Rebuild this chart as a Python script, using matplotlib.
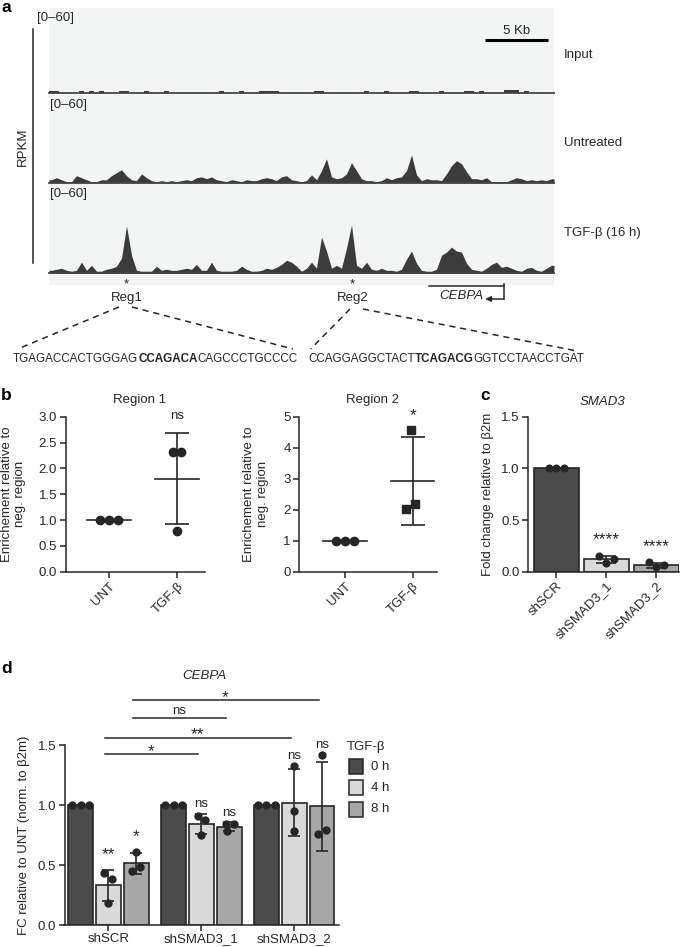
import numpy as np
import matplotlib
matplotlib.use("Agg")
import matplotlib.pyplot as plt
from matplotlib.patches import Rectangle
from matplotlib.transforms import blended_transform_factory

plt.rcParams['font.family'] = ['Liberation Sans', 'DejaVu Sans']
plt.rcParams['font.size'] = 9.5
plt.rcParams['axes.linewidth'] = 1.1
plt.rcParams['xtick.major.width'] = 1.1
plt.rcParams['ytick.major.width'] = 1.1
plt.rcParams['xtick.major.size'] = 4
plt.rcParams['ytick.major.size'] = 4
plt.rcParams['xtick.major.pad'] = 2
plt.rcParams['ytick.major.pad'] = 2

# ---------------- DATA ----------------
bin_kb = 0.4  # genomic bin size (kb)
track_names = ['Input', 'Untreated', 'TGF-β (16 h)']
input_rpkm = [1.4, 1.4, 0, 0, 0, 0, 1.4, 0, 1.4, 0,
              1.4, 0, 0, 0, 1.4, 1.4, 0, 0, 0, 1.4,
              0, 0, 0, 1.4, 0, 0, 0, 0, 0, 0,
              0, 0, 0, 0, 1.4, 0, 0, 0, 1.4, 0,
              0, 0, 1.4, 1.4, 1.4, 1.4, 0, 0, 0, 0,
              0, 0, 0, 1.4, 1.4, 0, 0, 0, 0, 0,
              0, 0, 0, 1.4, 0, 0, 0, 1.4, 0, 0,
              0, 0, 1.4, 1.4, 0, 0, 0, 0, 1.4, 0,
              0, 0, 0, 1.4, 1.4, 0, 1.4, 0, 0, 0,
              0, 2.0, 2.4, 2.0, 0, 1.4, 0, 0, 0, 0,
              0]
untreated_rpkm = [2, 3.4, 2, 0.7, 0.7, 4.8, 3.4, 2, 0.7, 0.7,
                  2, 2, 4.8, 6.8, 8.8, 4.8, 2, 1.4, 6, 3.4,
                  1.4, 0.7, 1.4, 0.7, 1.4, 0.7, 1.4, 2, 1.4, 3.4,
                  4, 2.7, 4, 2, 1.4, 0.7, 2, 1.4, 0.7, 2,
                  1.4, 1.4, 2.7, 3.4, 2.7, 1.4, 4, 4.8, 2, 1.4,
                  0.7, 1.4, 5.4, 2, 8.2, 16.3, 4, 2.7, 3.4, 6,
                  13.6, 8.2, 2.7, 1.4, 1.4, 0.7, 1.4, 3.4, 2, 3.4,
                  4, 8.2, 19, 5.4, 1.4, 2.7, 2, 2, 1.4, 6,
                  11.6, 15, 12.9, 7.5, 2.7, 2.7, 2, 3.4, 0.7, 0.7,
                  0.7, 0.7, 2, 3.4, 2.7, 1.4, 2, 1.4, 2, 1.4,
                  2.7]
tgfb_rpkm = [2, 2.7, 3.4, 2, 1.4, 2, 7.5, 2, 5.4, 1.4,
             1.4, 2.7, 3.4, 4.8, 10.2, 32, 12.2, 2, 1.4, 1.4,
             1.4, 4.8, 2, 2.7, 2, 2, 2.7, 3.4, 2.7, 6,
             2, 2, 7.5, 2, 1.4, 1.4, 1.4, 2, 4.8, 2.7,
             1.4, 1.4, 2, 3.4, 2.7, 4, 6, 8.8, 7.5, 4.8,
             1.4, 3.4, 7.5, 3.4, 24.5, 15, 3.4, 5.4, 3.4, 17,
             32.6, 5.4, 3.4, 7.5, 2.7, 2, 3.4, 2, 2, 1.4,
             2.7, 9.5, 15, 6.8, 2, 1.4, 1.4, 2.7, 12.2, 14.3,
             17.7, 15, 14.3, 6.8, 2.7, 2, 1.4, 3.4, 6, 7.5,
             4, 4.8, 3.4, 2, 1.4, 3.4, 4, 2, 1.4, 3.4,
             5.4]
track_data = [input_rpkm, untreated_rpkm, tgfb_rpkm]
reg_labels = ['Reg1', 'Reg2']
reg_kb = [6.2, 24.3]
gene_name = 'CEBPA'
gene_start_kb, gene_end_kb = 30.4, 36.4   # minus strand, TSS at end
scalebar_kb = 5

seq1 = [('TGAGACCACTGGGAG', False), ('CCAGACA', True), ('CAGCCCTGCCCC', False)]
seq2 = [('CCAGGAGGCTACT', False), ('TCAGACG', True), ('GGTCCTAACCTGAT', False)]

# panel b
b_categories = ['UNT', 'TGF-β']
region1_unt = [1.0, 1.0, 1.0]
region1_tgf = [2.31, 2.31, 0.79]
region2_unt = [1.0, 1.0, 1.0]
region2_tgf = [4.57, 2.01, 2.20]
b_sig = ['ns', '*']

# panel c
c_categories = ['shSCR', 'shSMAD3_1', 'shSMAD3_2']
smad3_vals = [[1.0, 1.0, 1.0], [0.153, 0.086, 0.124], [0.090, 0.042, 0.061]]
c_sig = ['', '****', '****']

# panel d
d_groups = ['shSCR', 'shSMAD3_1', 'shSMAD3_2']
d_times = ['0 h', '4 h', '8 h']
cebpa_0h = [[1.0, 1.0, 1.0], [1.0, 1.0, 1.0], [1.0, 1.0, 1.0]]
cebpa_4h = [[0.43, 0.38, 0.18], [0.908, 0.875, 0.75], [1.325, 0.95, 0.783]]
cebpa_8h = [[0.61, 0.45, 0.48], [0.84, 0.84, 0.78], [1.417, 0.756, 0.79]]
d_sig_4h = ['**', 'ns', 'ns']
d_sig_8h = ['*', 'ns', 'ns']
# comparisons: (time index, group a, group b, label)
d_comparisons = [(1, 0, 1, '*'), (1, 0, 2, '**'), (2, 0, 1, 'ns'), (2, 0, 2, '*')]
d_comp_levels = [1.423, 1.561, 1.728, 1.875]

# ---------------- STYLE ----------------
INK = '#262626'
TRACK_BG = '#f3f4f4'
TRACK_INK = '#3b3b3b'
DARK, LIGHT, MID = '#4b4b4b', '#dadada', '#a7a7a7'
bar_colors = [DARK, LIGHT, MID]
STAR_FS = 12.5

W, H = 685, 947
fig = plt.figure(figsize=(W / 100, H / 100), dpi=100)


def ax_px(l, t, r, b, **kw):
    return fig.add_axes([l / W, 1 - b / H, (r - l) / W, (b - t) / H], **kw)


def style(ax):
    for s in ['top', 'right']:
        ax.spines[s].set_visible(False)
    for s in ['left', 'bottom']:
        ax.spines[s].set_color(INK)
    ax.tick_params(colors=INK, labelcolor=INK)


def sig_text(ax, x, y_center, lab, **kw):
    """place significance label so that its glyphs are centred on y_center (data)."""
    is_star = '*' in lab
    fs = STAR_FS if is_star else 9.5
    # glyph centre above baseline, in pixels
    off_px = (0.58 if is_star else 0.27) * fs * 100 / 72
    y0 = ax.transData.transform((0, y_center))[1] - off_px
    yb = ax.transData.inverted().transform((0, y0))[1]
    ax.text(x, yb, lab, ha='center', va='baseline', color=INK, fontsize=fs, **kw)


# ---------------- PANEL A ----------------
track_rows = [(8, 93.3), (94.7, 182.7), (184.3, 273.3)]
track_left, track_right = 49, 554
track_axes = []
for (top, base), vals, name in zip(track_rows, track_data, track_names):
    ax = ax_px(track_left, top, track_right, base)
    ax.set_facecolor(TRACK_BG)
    v = np.asarray(vals, dtype=float)
    n = len(v)
    x = (np.arange(n) + 0.5) * bin_kb
    xx = np.r_[0, x, n * bin_kb]
    yy = np.r_[v[0], v, v[-1]]
    if name == 'Input':
        ax.fill_between(xx, 0, yy, step='mid', color=TRACK_INK, lw=0)
    else:
        ax.fill_between(xx, 0, yy, color=TRACK_INK, lw=0)
    ax.axhline(0, color='#444444', lw=1.3, clip_on=False)
    ax.set_xlim(0, n * bin_kb)
    ax.set_ylim(0, 60)
    ax.set_xticks([])
    ax.set_yticks([])
    for s in ax.spines.values():
        s.set_visible(False)
    track_axes.append(ax)

ov = fig.add_axes([0, 0, 1, 1])
ov.set_xlim(0, W)
ov.set_ylim(H, 0)
ov.axis('off')

ax3 = track_axes[2]
bl = blended_transform_factory(ax3.transData, ov.transData)

ov.add_patch(Rectangle((track_left, 274.7), track_right - track_left, 10.5,
                       color=TRACK_BG, lw=0))
for (top, base), lx in zip(track_rows, [37, 50, 50]):
    ov.text(lx, top + 10, '[0–60]', ha='left', va='center', color=INK)
for (top, base), name in zip(track_rows, track_names):
    ov.text(564, (top + base) / 2 + 4, name, ha='left', va='center', color=INK)

# scale bar
sb_end = 39.9
ov.plot([sb_end - scalebar_kb, sb_end], [40, 40], color='black', lw=2.2,
        transform=bl, solid_capstyle='butt')
ov.text(sb_end - scalebar_kb / 2, 31, '%d Kb' % scalebar_kb, ha='center', va='center',
        color=INK, transform=bl)
# RPKM
ov.plot([32.7, 32.7], [29, 263], color=INK, lw=1.1)
ov.text(22.5, 147, 'RPKM', rotation=90, ha='center', va='center', color=INK)

for lab, kb in zip(reg_labels, reg_kb):
    ov.text(kb, 284, '*', ha='center', va='center', transform=bl, color=INK, fontsize=9.5)
    ov.text(kb, 298, lab, ha='center', va='center', transform=bl, color=INK)

# gene
ov.plot([gene_start_kb, gene_end_kb], [286, 286], color=INK, lw=1.1, transform=bl)
ov.plot([gene_end_kb, gene_end_kb], [284, 299], color=INK, lw=1.1, transform=bl)
ov.annotate('', xy=(gene_end_kb - 1.5, 299), xytext=(gene_end_kb, 299),
            xycoords=bl, textcoords=bl,
            arrowprops=dict(arrowstyle='-|>', color=INK, lw=1.1, mutation_scale=8,
                            shrinkA=0, shrinkB=0))
ov.text((gene_start_kb + gene_end_kb) / 2 - 0.4, 296, gene_name, style='italic', ha='center',
        va='center', transform=bl, color=INK)

# dashed zoom lines
for (x0, y0), (x1, y1) in [((119, 307), (17.6, 349)), ((132, 307), (293, 349)),
                           ((350, 309), (310.6, 349)), ((363, 309), (577, 351))]:
    ov.plot([x0, x1], [y0, y1], color=INK, lw=1.1, dashes=(4, 3.2))

renderer = fig.canvas.get_renderer()


def seq_text(x, y, parts, size):
    for s, bold in parts:
        t = ov.text(x, y, s, ha='left', va='center', fontsize=size, color=INK,
                    fontweight='bold' if bold else 'normal')
        bb = t.get_window_extent(renderer=renderer)
        x += bb.width


seq_text(13, 359, seq1, 8.35)
seq_text(308, 359, seq2, 8.35)

# panel letters
for lx, ly, lt in [(1, 7, 'a'), (1, 395, 'b'), (480, 395, 'c'), (1, 668, 'd')]:
    ov.text(lx, ly, lt, fontsize=12.5, fontweight='bold', ha='left', va='center', color='black')

# ---------------- PANEL B ----------------
def dot_panel(box, xlim, ylim, yticks, yfmt, unt, tgf, markers, sig, sig_y, title, title_xy, ylab_x):
    ax = ax_px(*box)
    style(ax)
    ax.set_xlim(*xlim)
    ax.set_ylim(*ylim)
    jit = [[-0.13, 0.0, 0.13], [-0.065, 0.06, 0.0]] if markers[1] == 'o' else \
          [[-0.13, 0.0, 0.13], [-0.03, -0.1, 0.03]]
    for i, (vals, mk) in enumerate(zip([unt, tgf], markers)):
        v = np.asarray(vals)
        m = v.mean()
        sd = v.std(ddof=1)
        ax.plot(i + np.array(jit[i]), v, ls='none', marker=mk, ms=6, color=INK,
                mec=INK, clip_on=False, zorder=3)
        ax.plot([i - 0.32, i + 0.32], [m, m], color=INK, lw=1.2)
        if sd > 0:
            ax.errorbar(i, m, yerr=sd, fmt='none', ecolor=INK, elinewidth=1.2,
                        capsize=8.8, capthick=1.2)
    ax.set_xticks([0, 1])
    ax.set_xticklabels(b_categories, rotation=45, ha='right', rotation_mode='anchor')
    ax.set_yticks(yticks)
    ax.set_yticklabels([yfmt % t for t in yticks])
    ax.set_ylabel('Enrichement relative to\nneg. region', color=INK, linespacing=1.15)
    ax.yaxis.set_label_coords(ylab_x, 0.5)
    sig_text(ax, 1, sig_y, sig, clip_on=False)
    ov.text(title_xy[0], title_xy[1], title, ha='center', va='center', color=INK)
    return ax


dot_panel((65.5, 416.7, 205, 571.7), (-0.64, 1.41), (0, 3.0), np.arange(0, 3.01, 0.5), '%.1f',
          region1_unt, region1_tgf, ['o', 'o'], b_sig[0], 3.03, 'Region 1', (140, 400), -0.28)
dot_panel((299, 416.7, 437, 571.7), (-0.68, 1.36), (0, 5), np.arange(0, 6, 1), '%d',
          region2_unt, region2_tgf, ['o', 's'], b_sig[1], 5.2, 'Region 2', (373, 400), -0.22)

# ---------------- PANEL C ----------------
axc = ax_px(528, 416.7, 679, 571.7)
style(axc)
cx = np.arange(len(c_categories))
c_means = [np.mean(v) for v in smad3_vals]
c_sds = [np.std(v, ddof=1) for v in smad3_vals]
axc.set_xlim(-0.56, 2.46)
axc.set_ylim(0, 1.5)
axc.bar(cx, c_means, width=0.9, color=bar_colors, edgecolor=INK, lw=1.2, zorder=1)
for i, v in enumerate(smad3_vals):
    axc.plot(i + np.array([-0.15, 0.0, 0.15]), v, ls='none', marker='o', ms=4.8,
             color=INK, zorder=3, clip_on=False)
    if c_sds[i] > 0:
        axc.errorbar(i, c_means[i], yerr=c_sds[i], fmt='none', ecolor=INK,
                     elinewidth=1.2, capsize=7.5, capthick=1.2, zorder=2)
    if c_sig[i]:
        top = max(c_means[i] + c_sds[i], max(v))
        sig_text(axc, i, top + 0.205, c_sig[i])
axc.set_yticks([0, 0.5, 1.0, 1.5])
axc.set_yticklabels(['0.0', '0.5', '1.0', '1.5'])
axc.set_xticks(cx)
axc.set_xticklabels(c_categories, rotation=45, ha='right', rotation_mode='anchor')
axc.set_ylabel('Fold change relative to β2m', color=INK)
axc.yaxis.set_label_coords(-0.225, 0.5)
ov.text(603, 402, 'SMAD3', style='italic', ha='center', va='center', color=INK)

# ---------------- PANEL D ----------------
axd = ax_px(64.5, 745, 339, 925)
style(axd)
axd.set_xlim(-0.473, 2.48)
axd.set_ylim(0, 1.5)
offsets = [-0.3, 0.0, 0.3]
bw = 0.263
jit_d = {0: [[-0.09, 0, 0.09]] * 3,
         1: [[-0.05, 0.04, 0.0], [-0.04, 0.04, 0.0], [0.0, 0.0, 0.0]],
         2: [[0.0, -0.05, 0.04], [-0.04, 0.05, -0.03], [0.0, -0.045, 0.045]]}
all_sets = [cebpa_0h, cebpa_4h, cebpa_8h]
sigs = [None, d_sig_4h, d_sig_8h]
gx = np.arange(len(d_groups))
for t, sets in enumerate(all_sets):
    means = np.array([np.mean(v) for v in sets])
    sds = np.array([np.std(v, ddof=1) for v in sets])
    axd.bar(gx + offsets[t], means, width=bw, color=bar_colors[t], edgecolor=INK,
            lw=1.2, zorder=1)
    for g, v in enumerate(sets):
        xg = g + offsets[t]
        axd.plot(xg + np.array(jit_d[t][g]), v, ls='none', marker='o', ms=5,
                 color=INK, zorder=3, clip_on=False)
        if sds[g] > 0:
            axd.errorbar(xg, means[g], yerr=sds[g], fmt='none', ecolor=INK,
                         elinewidth=1.2, capsize=4.6, capthick=1.2, zorder=2)
        if sigs[t] is not None:
            top = max(means[g] + sds[g], max(v))
            lab = sigs[t][g]
            pad = 0.17 if '*' in lab else 0.085
            sig_text(axd, xg, top + pad, lab)
for (t, ga, gb, lab), lev in zip(d_comparisons, d_comp_levels):
    x0 = ga + offsets[t] - 0.04
    x1 = gb + offsets[t] - 0.04
    axd.plot([x0, x1], [lev, lev], color=INK, lw=1.1, clip_on=False)
    pad = 0.068 if '*' in lab else 0.06
    sig_text(axd, (x0 + x1) / 2, lev + pad, lab, clip_on=False)
axd.set_yticks([0, 0.5, 1.0, 1.5])
axd.set_yticklabels(['0.0', '0.5', '1.0', '1.5'])
axd.set_xticks(gx)
axd.set_xticklabels(d_groups)
axd.set_ylabel('FC relative to UNT (norm. to β2m)', color=INK)
axd.yaxis.set_label_coords(-0.125, 0.5)
ov.text(204, 676, 'CEBPA', style='italic', ha='center', va='center', color=INK)

# legend for d
ov.text(347, 747, 'TGF-β', ha='left', va='center', color=INK)
for k, (lab, col) in enumerate(zip(d_times, bar_colors)):
    y0 = 759 + 21.3 * k
    ov.add_patch(Rectangle((349.3, y0), 14, 15, facecolor=col, edgecolor=INK, lw=1.1))
    ov.text(371, y0 + 7.7, lab, ha='left', va='center', color=INK)

fig.savefig('out.png', dpi=100)
